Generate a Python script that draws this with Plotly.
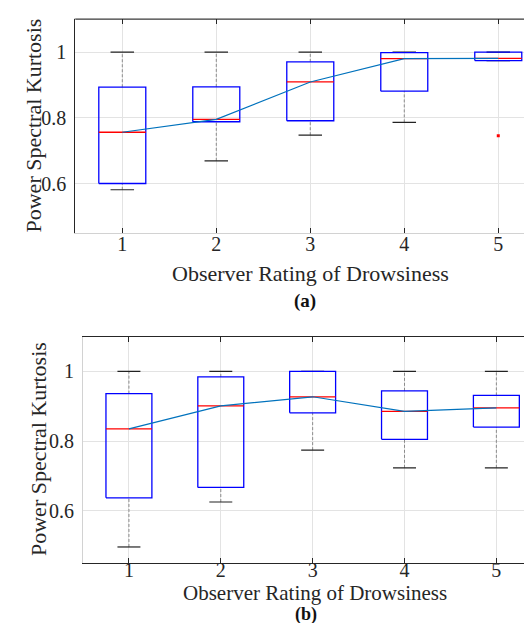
import plotly.graph_objects as go

# ---------------- data ----------------
categories = [1, 2, 3, 4, 5]
x_tick_labels = ["1", "2", "3", "4", "5"]
y_tick_values = [0.6, 0.8, 1.0]
y_tick_labels = ["0.6", "0.8", "1"]

# panel (a)
a_upper = [1.000, 1.000, 1.000, 1.000, 1.000]
a_q3 = [0.893, 0.894, 0.970, 0.998, 1.000]
a_median = [0.756, 0.795, 0.909, 0.980, 0.981]
a_q1 = [0.600, 0.788, 0.791, 0.881, 0.974]
a_lower = [0.581, 0.669, 0.747, 0.786, 0.974]
a_outlier_x = [5]
a_outlier_y = [0.745]

# panel (b)
b_upper = [1.000, 1.000, 1.000, 1.000, 1.000]
b_q3 = [0.936, 0.984, 1.000, 0.944, 0.931]
b_median = [0.835, 0.901, 0.927, 0.885, 0.895]
b_q1 = [0.637, 0.667, 0.881, 0.805, 0.840]
b_lower = [0.496, 0.625, 0.774, 0.723, 0.723]
b_outlier_x = []
b_outlier_y = []

# ---------------- style ----------------
FONT = "Liberation Serif, Times New Roman, Times, serif"
TXT = "#262626"
HW = 0.25   # box half width
CW = 0.125  # whisker cap half width
GRID = "#e3e3e3"
W, H = 532, 623

fig = go.Figure()


def add_panel(q1, q3, med, lo, hi, ox, oy, xa, ya):
    wx, wy, cx, cy, bx, by, mx, my = [], [], [], [], [], [], [], []
    for c, a, b, m, l, u in zip(categories, q1, q3, med, lo, hi):
        wx += [c, c, None, c, c, None]
        wy += [b, u, None, l, a, None]
        cx += [c - CW, c + CW, None, c - CW, c + CW, None]
        cy += [u, u, None, l, l, None]
        bx += [c - HW, c + HW, c + HW, c - HW, c - HW, None]
        by += [a, a, b, b, a, None]
        mx += [c - HW, c + HW, None]
        my += [m, m, None]
    common = dict(xaxis=xa, yaxis=ya, mode="lines", showlegend=False, hoverinfo="skip")
    fig.add_trace(go.Scatter(x=wx, y=wy, line=dict(color="#8c8c8c", width=1, dash="3px,2px"), **common))
    fig.add_trace(go.Scatter(x=cx, y=cy, line=dict(color="#222222", width=1.2), **common))
    fig.add_trace(go.Scatter(x=bx, y=by, line=dict(color="#0000ff", width=1.3), **common))
    fig.add_trace(go.Scatter(x=mx, y=my, line=dict(color="#ff0000", width=1.3), **common))
    fig.add_trace(go.Scatter(x=categories, y=med, line=dict(color="#0072BD", width=1.2), **common))
    if ox:
        fig.add_trace(go.Scatter(x=ox, y=oy, xaxis=xa, yaxis=ya, mode="markers", showlegend=False,
                                 marker=dict(color="#ff0000", size=3, symbol="square"), hoverinfo="skip"))


add_panel(a_q1, a_q3, a_median, a_lower, a_upper, a_outlier_x, a_outlier_y, "x", "y")
add_panel(b_q1, b_q3, b_median, b_lower, b_upper, b_outlier_x, b_outlier_y, "x2", "y2")

tickfont = dict(family=FONT, size=20, color=TXT)


def xaxis_cfg(dom, rng, linecolor, anchor, standoff):
    return dict(domain=dom, range=rng, tickvals=categories, ticktext=x_tick_labels,
                showgrid=True, gridcolor=GRID, gridwidth=1, zeroline=False,
                showline=True, linecolor=linecolor, linewidth=1, mirror="ticks",
                ticks="inside", ticklen=5, tickcolor=TXT, tickwidth=1,
                tickfont=tickfont, ticklabelstandoff=standoff, anchor=anchor, fixedrange=True)


def yaxis_cfg(dom, linecolor, anchor):
    return dict(domain=dom, range=[0.45, 1.1], tickvals=y_tick_values, ticktext=y_tick_labels,
                showgrid=True, gridcolor=GRID, gridwidth=1, zeroline=False,
                showline=True, linecolor=linecolor, linewidth=1, ticks="",
                tickfont=tickfont, anchor=anchor, ticklabelstandoff=4, fixedrange=True)


fig.update_layout(
    width=W, height=H, margin=dict(l=0, r=0, t=0, b=0),
    paper_bgcolor="white", plot_bgcolor="white",
    font=dict(family=FONT, color=TXT),
    xaxis=xaxis_cfg([67.3 / W, 1.0], [0.5, 5.444], "#d2d2d2", "y", -7),
    yaxis=yaxis_cfg([1 - 224.8 / H, 1 - 11.2 / H], "#262626", "x"),
    xaxis2=xaxis_cfg([75.0 / W, 1.0], [0.5, 5.475], "#262626", "y2", -11),
    yaxis2=yaxis_cfg([1 - 555.0 / H, 1 - 328.5 / H], "#d2d2d2", "x2"),
)

# top border of panel (a) drawn dark
fig.add_shape(type="line", xref="x domain", yref="y domain", x0=0, x1=1, y0=1, y1=1,
              line=dict(color="#262626", width=1))

titlefont = dict(family=FONT, size=22, color=TXT)
labfont = dict(family=FONT, size=19, color="#111111")


def ann(text, x, y, font, angle=0, yanchor="middle"):
    fig.add_annotation(text=text, x=x / W, y=1 - y / H, xref="paper", yref="paper",
                       xanchor="center", yanchor=yanchor, showarrow=False,
                       textangle=angle, font=font)


ann("Power Spectral Kurtosis", 25, 117.5, titlefont, -90)
ann("Observer Rating of Drowsiness", 302, 266, titlefont)
ann("<b>(a)</b>", 297, 293, labfont)
ann("Power Spectral Kurtosis", 31, 441, titlefont, -90)
ann("Observer Rating of Drowsiness", 307, 585, dict(titlefont, size=21))
ann("<b>(b)</b>", 297.5, 619, dict(labfont, size=18), yanchor="bottom")

fig.write_html("out.html")
